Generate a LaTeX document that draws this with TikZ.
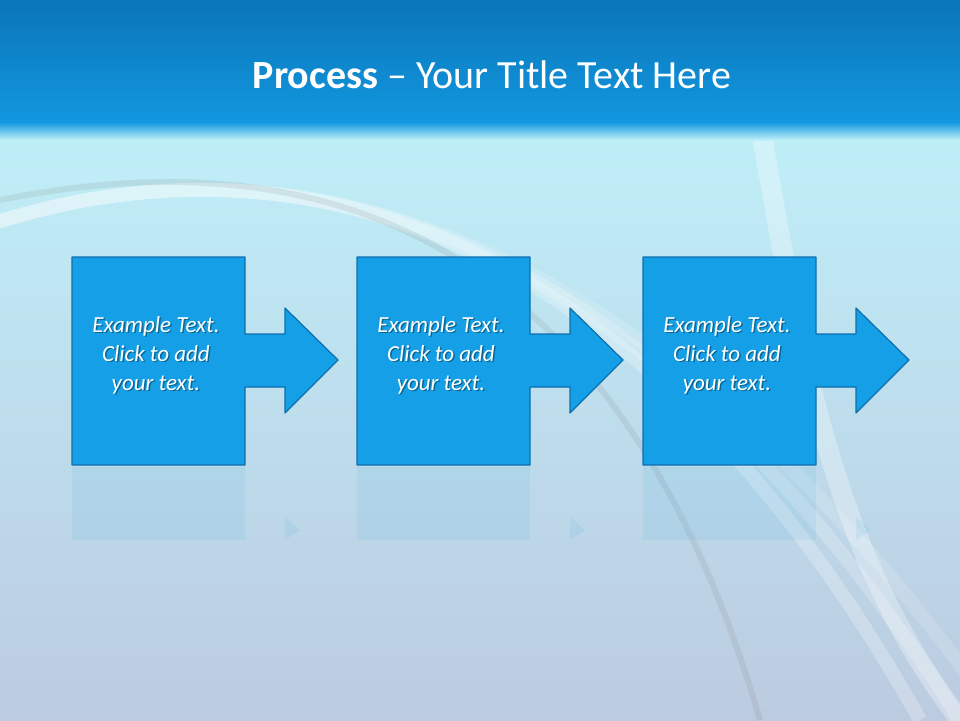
\documentclass[tikz,border=0pt]{standalone}
\usepackage{fontspec}
\setmainfont{Carlito}
\definecolor{boxfill}{HTML}{149FE6}
\definecolor{boxline}{HTML}{0F6FAE}
\definecolor{bandtop}{HTML}{0A75B8}
\definecolor{bandbot}{HTML}{1298E0}
\definecolor{bgtop}{HTML}{BFEFF8}
\definecolor{bgbot}{HTML}{BCCBE0}
\tikzset{
  stepshape/.style={fill=boxfill,draw=boxline,line width=1.2pt,line join=round},
  reflect/.style={fill=boxfill,opacity=0.08},
  steptext/.style={text=white,font=\itshape\fontsize{23}{29}\selectfont,align=center}
}
\begin{document}
\begin{tikzpicture}[x=1pt,y=-1pt]
\useasboundingbox (0,0) rectangle (960,720);
\shade[top color=bgtop,bottom color=bgbot] (0,125) rectangle (960,720);
\foreach \r/\o in {620/0.25,660/0.2,700/0.15}{
  \draw[white,line width=14pt,opacity=\o] (-100,260) .. controls (200,120) and (600,150) .. (\r+300,720);}
\draw[gray,line width=6pt,opacity=0.15] (0,200) .. controls (250,150) and (600,170) .. (760,720);
\draw[white,line width=20pt,opacity=0.3] (760,125) .. controls (800,350) and (830,550) .. (960,720);
\shade[top color=bandtop,bottom color=bandbot] (0,0) rectangle (960,125);
\shade[top color=bandbot,bottom color=bgtop] (0,122) rectangle (960,140);
\node[text=white,font=\fontsize{40}{46}\selectfont] (title) at (492,75) {\textbf{Process} – Your Title Text Here};
\foreach \i/\dx in {1/0,2/285,3/571}{
  \begin{scope}[xshift=\dx]
  \fill[reflect] (72,467) rectangle (245,540);
  \fill[reflect] (285,517) -- (300,530) -- (285,540) -- cycle;
  \draw[stepshape] (72,257) -- (245,257) -- (245,334) -- (285,334) -- (285,308) -- (338,360)
     -- (285,413) -- (285,387) -- (245,387) -- (245,465) -- (72,465) -- cycle;
  \node[steptext,text=black,opacity=0.35] at (157.5,356.5) {Example Text.\\Click  to add\\your text.};
  \node[steptext] (t\i) at (156,355) {Example Text.\\Click  to add\\your text.};
  \end{scope}
}
\end{tikzpicture}
\end{document}
